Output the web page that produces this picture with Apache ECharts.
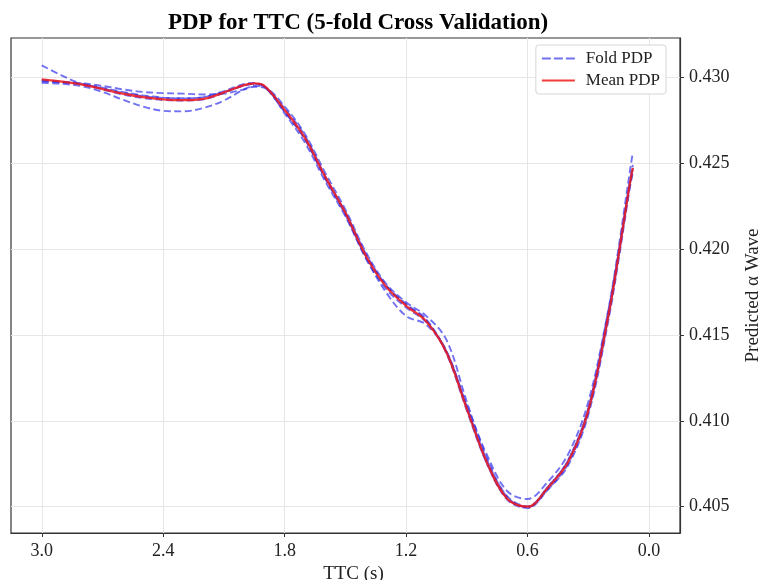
<!DOCTYPE html>
<html>
<head>
<meta charset="utf-8">
<script src="https://cdn.jsdelivr.net/npm/echarts@6/dist/echarts.min.js"></script>
<style>
html,body{margin:0;padding:0;background:#fff;}
#chart{width:763px;height:580px;}
</style>
</head>
<body>
<div id="chart"></div>
<script>
const ttc = [3.0,2.9,2.8,2.7,2.6,2.5,2.4,2.3,2.2,2.1,2.0,1.95,1.9,1.8,1.7,1.6,1.5,1.4,1.3,1.2,1.1,1.0,0.9,0.8,0.7,0.6,0.5,0.4,0.3,0.2,0.15,0.1,0.08];
const meanPdp = [0.42988,0.42975,0.42958,0.42932,0.42905,0.42885,0.42872,0.42867,0.42874,0.42912,0.42955,0.42965,0.42950,0.42810,0.42647,0.42422,0.42211,0.41963,0.41783,0.41670,0.41579,0.41397,0.41070,0.40755,0.40545,0.40500,0.40610,0.40760,0.41060,0.41618,0.41967,0.42345,0.42473];
const fold1 = [0.43070,0.43010,0.42962,0.42940,0.42915,0.42895,0.42882,0.42877,0.42884,0.42915,0.42952,0.42962,0.42948,0.42818,0.42660,0.42425,0.42205,0.41950,0.41770,0.41660,0.41575,0.41405,0.41080,0.40750,0.40540,0.40492,0.40600,0.40740,0.41035,0.41590,0.41940,0.42320,0.42450];
const fold2 = [0.42968,0.42962,0.42948,0.42915,0.42870,0.42830,0.42805,0.42802,0.42822,0.42865,0.42930,0.42950,0.42942,0.42790,0.42620,0.42395,0.42190,0.41950,0.41750,0.41610,0.41560,0.41400,0.41075,0.40770,0.40560,0.40502,0.40615,0.40770,0.41070,0.41630,0.41980,0.42360,0.42490];
const fold3 = [0.42975,0.42972,0.42965,0.42950,0.42930,0.42915,0.42908,0.42905,0.42900,0.42905,0.42930,0.42945,0.42940,0.42830,0.42670,0.42445,0.42230,0.41985,0.41800,0.41690,0.41610,0.41470,0.41110,0.40780,0.40555,0.40497,0.40600,0.40750,0.41050,0.41610,0.41960,0.42340,0.42470];
const fold4 = [0.42980,0.42970,0.42960,0.42935,0.42910,0.42890,0.42880,0.42878,0.42885,0.42920,0.42962,0.42968,0.42945,0.42800,0.42640,0.42410,0.42200,0.41960,0.41790,0.41680,0.41590,0.41390,0.41060,0.40750,0.40548,0.40497,0.40615,0.40770,0.41075,0.41650,0.42010,0.42410,0.42565];
const fold5 = [0.42985,0.42975,0.42958,0.42930,0.42900,0.42880,0.42868,0.42865,0.42872,0.42910,0.42955,0.42962,0.42948,0.42800,0.42640,0.42415,0.42215,0.41975,0.41790,0.41675,0.41585,0.41400,0.41090,0.40800,0.40590,0.40545,0.40645,0.40805,0.41110,0.41650,0.41980,0.42340,0.42460];
const xTicks = [3.0,2.4,1.8,1.2,0.6,0.0];
const yTicks = [0.405,0.410,0.415,0.420,0.425,0.430];

const folds = [fold1, fold2, fold3, fold4, fold5];
const FONT = 'Liberation Serif';
const BLUE = 'rgba(45,45,235,0.68)';
const RED = 'rgba(240,25,25,0.85)';
const pair = arr => ttc.map((t,i) => [t, arr[i]]);

const series = folds.map(f => ({
  name: 'Fold PDP', type: 'line', data: pair(f), smooth: 0.35, symbol: 'none',
  lineStyle: {color: BLUE, width: 1.9, type: [7,3.5]},
  itemStyle: {color: BLUE}, z: 2
}));
series.push({
  name: 'Mean PDP', type: 'line', data: pair(meanPdp), smooth: 0.35, symbol: 'none',
  lineStyle: {color: RED, width: 2.3},
  itemStyle: {color: RED}, z: 3
});

const chart = echarts.init(document.getElementById('chart'), null, {renderer: 'canvas'});
chart.setOption({
  animation: false,
  backgroundColor: '#fff',
  title: {
    text: 'PDP for TTC (5-fold Cross Validation)', left: 353, top: 7, textAlign: 'center',
    textStyle: {fontFamily: FONT, fontWeight: 'bold', fontSize: 23, color: '#000'}
  },
  legend: {
    data: [
      {name: 'Fold PDP', icon: 'path://M0,0H9V2H0Z M12,0H21V2H12Z M24,0H33V2H24Z', itemStyle: {color: BLUE}},
      {name: 'Mean PDP', icon: 'path://M0,0H33V2H0Z', itemStyle: {color: RED}}
    ],
    orient: 'vertical', right: 97, top: 45,
    backgroundColor: '#fff', borderColor: '#d6d6d6', borderWidth: 1, borderRadius: 3,
    padding: [5, 6, 5, 6], itemGap: 5, itemWidth: 33, itemHeight: 2.5,
    textStyle: {fontFamily: FONT, fontSize: 17, color: '#222', padding: [0, 0, 0, 6]}
  },
  grid: {left: 11, right: 83, top: 38, bottom: 47, show: true, borderColor: '#333', borderWidth: 1.2, backgroundColor: 'transparent', outerBoundsMode: 'none', containLabel: false},
  xAxis: {
    type: 'value', inverse: true, min: -0.153, max: 3.152,
    name: 'TTC (s)', nameLocation: 'middle', nameGap: 30,
    nameTextStyle: {fontFamily: FONT, fontSize: 19, color: '#222', padding: [0, 0, 0, 16]},
    axisLine: {show: true, onZero: false, lineStyle: {color: '#333', width: 1.2}},
    axisTick: {show: true, customValues: xTicks, length: 4, lineStyle: {color: '#333'}},
    axisLabel: {customValues: xTicks, formatter: v => v.toFixed(1), fontFamily: FONT, fontSize: 18, color: '#222', margin: 9},
    splitLine: {show: true, lineStyle: {color: '#e6e6e6', width: 1}}
  },
  yAxis: {
    type: 'value', position: 'right', min: 0.40347, max: 0.43229,
    name: 'Predicted α Wave', nameLocation: 'middle', nameGap: 64, nameRotate: 90,
    nameTextStyle: {fontFamily: FONT, fontSize: 19, color: '#222', padding: [0, 20, 0, 0]},
    axisLine: {show: true, onZero: false, lineStyle: {color: '#333', width: 1.2}},
    axisTick: {show: true, customValues: yTicks, length: 4, lineStyle: {color: '#333'}},
    axisLabel: {customValues: yTicks, formatter: v => v.toFixed(3), fontFamily: FONT, fontSize: 18, color: '#222', margin: 9},
    splitLine: {show: true, lineStyle: {color: '#e6e6e6', width: 1}}
  },
  series: series
});
</script>
</body>
</html>
